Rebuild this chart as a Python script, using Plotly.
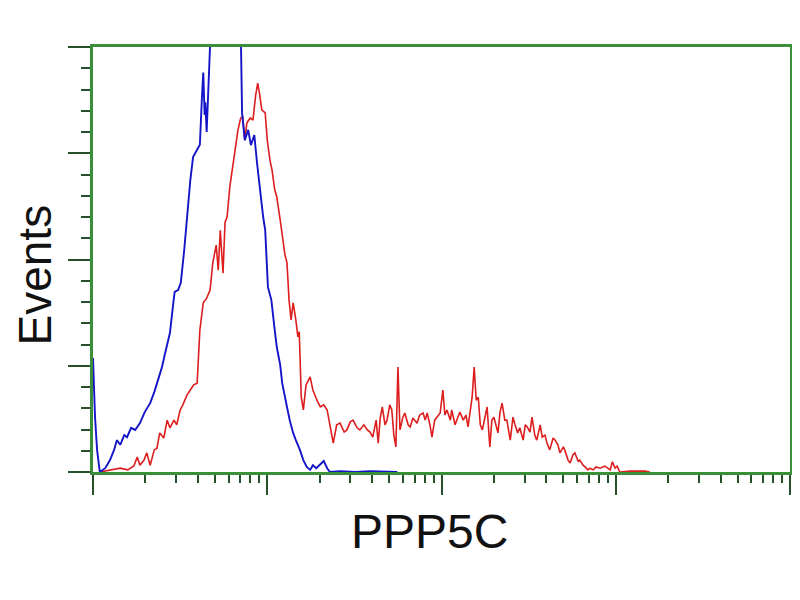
import numpy as np
import plotly.graph_objects as go

# Flow cytometry histogram, 4-decade log scale stored as 1024 channels
_BLUE = "#1414c8"
_RED = "#dc1e1e"
_FRAME = "#3b8f3b"
_TICK = "#25502a"

# control (blue)
blue_ch = [0, 3, 6, 10, 18, 25, 31, 35, 40, 46, 50, 56, 62, 69, 76, 84, 90, 95,
           101, 106, 110, 113, 118, 120, 125, 129, 134, 138, 143, 147, 153, 157,
           160, 162, 164, 165, 167, 169, 172, 178, 184, 190, 195, 201, 207, 213,
           217, 219, 223, 228, 232, 237, 241, 245, 250, 253, 257, 262, 264, 267,
           270, 275, 278, 282, 285, 289, 294, 298, 304, 309, 314, 319, 323, 328,
           334, 339, 344, 348, 363, 385, 407, 447]
blue_events = [26.8, 12.9, 5.2, 0.0, 0.9, 2.8, 5.2, 7.5, 6.4, 8.7, 8.2, 10.4, 9.9,
               11.5, 14.1, 16.2, 18.8, 21.6, 24.5, 28.0, 31.1, 32.7, 39.8, 42.4,
               42.8, 44.5, 52.2, 60.5, 68.7, 74.1, 75.8, 77.0, 88.0, 94.0, 84.0,
               87.0, 80.0, 92.0, 110, 125, 135, 140, 138, 132, 128, 120, 105, 84.5,
               78.1, 80.5, 76.9, 79.3, 72.7, 66.4, 60.0, 56.9, 43.5, 40.5, 38.1,
               33.4, 29.4, 25.2, 20.9, 18.1, 15.3, 12.2, 9.2, 7.5, 5.2, 2.8, 1.2,
               0.5, 1.6, 0.9, 1.9, 2.6, 0.9, 0.0, 0.2, 0.0, 0.2, 0.0]

# PPP5C stained (red)
red_ch = [10, 25, 40, 51, 60, 65, 69, 75, 79, 84, 90, 94, 98, 104, 109, 113, 119,
          123, 128, 132, 138, 143, 148, 153, 157, 162, 167, 172, 176, 181, 184,
          187, 191, 194, 197, 201, 206, 210, 213, 217, 220, 223, 226, 231, 235,
          239, 242, 245, 248, 253, 256, 260, 263, 267, 270, 275, 279, 282, 285,
          288, 291, 294, 298, 301, 303, 306, 309, 313, 319, 323, 329, 334, 339,
          344, 348, 353, 358, 363, 369, 373, 378, 382, 388, 392, 398, 403, 407,
          411, 416, 419, 422, 425, 429, 432, 436, 439, 442, 445, 448, 451, 455,
          458, 463, 466, 470, 476, 480, 485, 488, 491, 495, 498, 502, 505, 510,
          514, 517, 520, 525, 527, 532, 536, 539, 544, 548, 551, 554, 557, 560,
          563, 566, 569, 572, 576, 579, 583, 586, 589, 592, 595, 598, 601, 605,
          608, 613, 617, 620, 624, 627, 632, 635, 638, 642, 645, 649, 652, 657,
          660, 664, 667, 671, 676, 679, 683, 686, 691, 693, 698, 701, 705, 708,
          713, 715, 720, 723, 727, 730, 735, 739, 745, 752, 760, 763, 767, 770,
          774, 789, 811, 818]
red_events = [0.0, 0.5, 0.9, 0.5, 1.4, 3.5, 1.6, 2.8, 4.5, 1.6, 5.2, 5.6, 9.2, 8.0,
              12.2, 10.4, 12.2, 11.1, 14.6, 15.8, 18.1, 19.3, 20.5, 20.9, 33.4,
              39.8, 40.9, 42.8, 49.2, 53.4, 47.5, 56.9, 46.8, 58.8, 60.0, 67.1,
              72.7, 76.9, 80.5, 83.3, 83.5, 78.1, 82.1, 83.3, 82.8, 88.7, 91.5,
              88.7, 85.2, 84.5, 78.1, 73.4, 71.1, 66.4, 64.7, 59.3, 54.6, 51.1,
              49.2, 40.5, 35.8, 39.8, 35.8, 31.8, 33.0, 17.6, 14.6, 20.5, 22.4,
              19.3, 16.9, 15.3, 15.8, 14.6, 11.1, 6.8, 11.1, 11.5, 9.4, 9.9, 11.8,
              12.2, 10.4, 9.9, 11.1, 9.9, 9.4, 8.2, 12.2, 6.8, 12.7, 15.3, 11.1,
              12.2, 15.8, 14.6, 8.7, 5.9, 24.7, 9.9, 12.7, 13.9, 11.1, 10.6, 12.7,
              11.5, 13.4, 13.9, 12.2, 13.9, 11.1, 8.2, 12.2, 12.9, 13.9, 19.3,
              13.4, 14.6, 12.2, 14.6, 11.1, 12.9, 14.1, 12.2, 13.4, 10.6, 14.6,
              17.6, 24.7, 16.9, 17.6, 11.1, 9.9, 13.4, 15.3, 5.9, 12.2, 12.9, 11.1,
              9.2, 14.1, 16.2, 12.2, 12.2, 7.5, 12.9, 11.1, 9.2, 10.4, 7.5, 11.1,
              10.6, 9.4, 12.9, 8.7, 7.5, 11.1, 8.2, 8.7, 6.8, 5.2, 8.0, 7.5, 6.4,
              4.5, 5.9, 5.2, 2.8, 2.1, 4.0, 4.5, 2.4, 2.8, 1.6, 1.2, 0.5, 0.9, 0.5,
              1.2, 0.9, 1.4, 0.5, 2.4, 0.9, 1.4, 0.0, 0.2, 0.2, 0.0]

y_major = [0, 25, 50, 75, 100]
y_minor = [v for v in range(0, 101, 5) if v % 25]
# decade boundaries in channels, minor ticks at 2..9 within each decade
x_major = [0, 256, 512, 768, 1024]
x_minor = [256 * (d + np.log10(m)) for d in range(4) for m in range(2, 10)]

fig = go.Figure()
fig.add_trace(go.Scatter(x=red_ch, y=red_events, mode="lines",
                         line=dict(color=_RED, width=1.6), showlegend=False))
fig.add_trace(go.Scatter(x=blue_ch, y=blue_events, mode="lines",
                         line=dict(color=_BLUE, width=1.9), showlegend=False))

# page body has an 8px margin, so the figure sits at (8, 8)
fig.update_layout(
    width=800, height=600,
    paper_bgcolor="white", plot_bgcolor="white",
    margin=dict(l=85, r=18, t=39, b=136),
    font=dict(family="Liberation Sans, Arial, sans-serif", color="#111111"),
    xaxis=dict(
        range=[0, 1024], showgrid=False, zeroline=False, showticklabels=False,
        showline=True, linecolor=_FRAME, linewidth=3, mirror=True,
        tickmode="array", tickvals=x_major, ticks="outside", ticklen=20,
        tickwidth=2, tickcolor=_TICK,
        minor=dict(tickmode="array", tickvals=x_minor, ticks="outside",
                   ticklen=8, tickwidth=2, tickcolor=_TICK),
    ),
    yaxis=dict(
        range=[0, 100], showgrid=False, zeroline=False, showticklabels=False,
        showline=True, linecolor=_FRAME, linewidth=3, mirror=True,
        tickmode="array", tickvals=y_major, ticks="outside", ticklen=22,
        tickwidth=2, tickcolor=_TICK,
        minor=dict(tickmode="array", tickvals=y_minor, ticks="outside",
                   ticklen=9, tickwidth=2, tickcolor=_TICK),
    ),
    annotations=[
        dict(text="Events", xref="paper", yref="paper", x=0, y=0.5,
             xshift=-59, yshift=-16, xanchor="center", yanchor="middle",
             textangle=-90, showarrow=False, font=dict(size=46)),
        dict(text="PPP5C", xref="paper", yref="paper", x=0.4835, y=0,
             yshift=-59, xanchor="center", yanchor="middle", showarrow=False,
             font=dict(size=48)),
    ],
)

fig.write_html("out.html")
